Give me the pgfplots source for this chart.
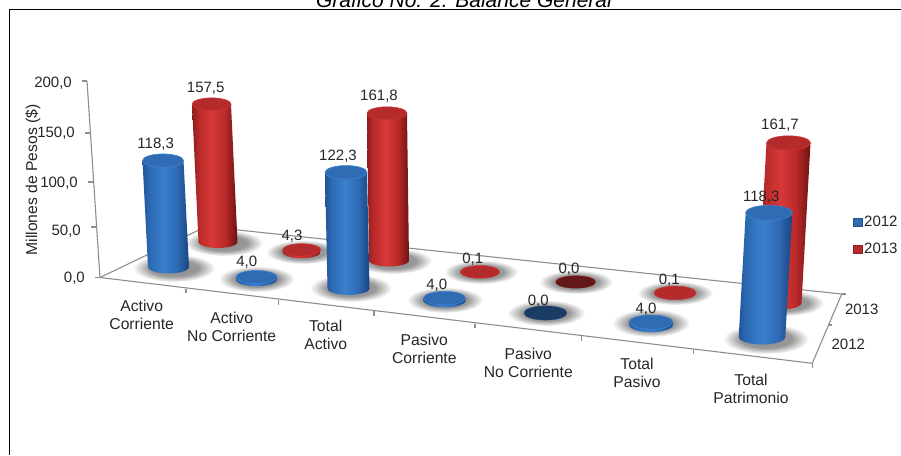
\documentclass[border=0pt]{standalone}
\usepackage{fontspec}
\setmainfont{Liberation Sans}
\usepackage{pgfplots}
\pgfplotsset{compat=1.18}

\definecolor{axgray}{HTML}{8E8E8E}
\definecolor{txt}{HTML}{262626}
\definecolor{capb}{HTML}{2F6CB4}
\definecolor{capr}{HTML}{B52A2A}
\definecolor{rimb}{HTML}{3F80CC}
\definecolor{rimr}{HTML}{C83434}

% cylinder bodies, the path covers 25bp to 75bp of the shading
\pgfdeclarehorizontalshading{cylb}{100bp}{rgb(0bp)=(.13,.33,.60);rgb(25bp)=(.13,.33,.60);rgb(32bp)=(.17,.41,.70);rgb(47bp)=(.23,.50,.80);rgb(62bp)=(.18,.42,.71);rgb(75bp)=(.10,.27,.50);rgb(100bp)=(.10,.27,.50)}
\pgfdeclarehorizontalshading{cylr}{100bp}{rgb(0bp)=(.55,.11,.11);rgb(25bp)=(.55,.11,.11);rgb(32bp)=(.72,.16,.16);rgb(47bp)=(.85,.22,.22);rgb(62bp)=(.72,.16,.16);rgb(75bp)=(.42,.07,.07);rgb(100bp)=(.42,.07,.07)}
\pgfdeclareradialshading{halo}{\pgfpointorigin}{color(0bp)=(black!46);color(15bp)=(black!40);color(25bp)=(white);color(50bp)=(white)}

\tikzset{
  v/.style={font=\fontsize{15}{18.2}\selectfont, text=txt, inner sep=0pt},
  c/.style={font=\fontsize{15.7}{18.2}\selectfont, text=txt, inner sep=0pt, align=center},
}

% shadow on the floor: x, y, half width, half height
\newcommand{\halo}[4]{%
  \def\pts{}%
  \foreach \t in {0,15,...,345}{%
    \pgfmathsetmacro\px{#1+#3*cos(\t)}\pgfmathsetmacro\py{#2+#4*sin(\t)}%
    \xdef\pts{\pts (\px,\py)}}%
  \addplot[forget plot, draw=none, mark=none, shading=halo] coordinates {\pts} --cycle;
}
% x base, y base, x top, value, px per unit, half width, half height of the ellipse, b or r
\newcommand{\cyl}[8]{%
  \pgfmathsetmacro\yt{#2-#4*#5}%
  \pgfmathsetmacro\xbl{#3-#6}\pgfmathsetmacro\xbr{#3+#6}%
  \xdef\pts{(\xbl,\yt) (\xbr,\yt)}%
  \foreach \t in {0,15,...,180}{%
    \pgfmathsetmacro\px{#1+#6*cos(\t)}\pgfmathsetmacro\py{#2+#7*sin(\t)}%
    \xdef\pts{\pts (\px,\py)}}%
  \addplot[forget plot, draw=none, mark=none, shading=cyl#8] coordinates {\pts} --cycle;
  \pgfmathsetmacro\rat{#7/#6}%
  \addplot[only marks, forget plot, mark=*, mark size=#6pt, mark options={yscale=\rat, fill=cap#8, draw=rim#8, line width=.6pt}] coordinates {(#3,\yt)};
}

\begin{document}
\begin{tikzpicture}
\useasboundingbox (0,0) rectangle (901pt,455pt);
\begin{axis}[
    at={(0,0)}, anchor=south west,
    scale only axis, width=901pt, height=455pt,
    xmin=0, xmax=901, ymin=0, ymax=455, y dir=reverse,
    hide axis, clip=false,
]
% frame
\draw[black, line width=1pt] (axis cs:901,9) -- (axis cs:9.5,9) -- (axis cs:9.5,455);

% shadows
\halo{174}{268}{41}{14}
\halo{224}{243}{39}{13}
\halo{351}{288}{41}{14}
\halo{393}{261}{39}{13}
\halo{256.5}{279}{38}{13}
\halo{303}{252}{37}{12}
\halo{445}{300}{38}{13}
\halo{481}{272}{37}{12}
\halo{546}{313}{39}{13}
\halo{576}{282}{37}{12}
\halo{651}{323}{39}{14}
\halo{675}{293}{38}{12}
\halo{766}{339}{43}{15}
\halo{785}{303}{39}{13}

% floor and walls
\draw[axgray, line width=1.1pt] (axis cs:87,81) -- (axis cs:100,277.5) -- (axis cs:812.3,363.3) -- (axis cs:841.7,294) -- (axis cs:206,226.6) -- (axis cs:100,277.5);
\draw[axgray, line width=1.1pt] (axis cs:82,81) -- (axis cs:87,81);
\draw[axgray, line width=1.1pt] (axis cs:85,133) -- (axis cs:89.5,133);
\draw[axgray, line width=1.1pt] (axis cs:88,182) -- (axis cs:92.5,182);
\draw[axgray, line width=1.1pt] (axis cs:91,227) -- (axis cs:96,227);
\draw[axgray, line width=1.1pt] (axis cs:94.5,277.5) -- (axis cs:100,277.5);
\draw[axgray, line width=1.1pt] (axis cs:186,288.5) -- (axis cs:186,293);
\draw[axgray, line width=1.1pt] (axis cs:278.3,300) -- (axis cs:278.3,305);
\draw[axgray, line width=1.1pt] (axis cs:374,311) -- (axis cs:374,315.5);
\draw[axgray, line width=1.1pt] (axis cs:475,323.5) -- (axis cs:475,328);
\draw[axgray, line width=1.1pt] (axis cs:581.7,336) -- (axis cs:581.7,340.5);
\draw[axgray, line width=1.1pt] (axis cs:693.3,349) -- (axis cs:693.3,353.5);
\draw[axgray, line width=1.1pt] (axis cs:812.3,363.3) -- (axis cs:812.3,368);
\draw[axgray, line width=1.1pt] (axis cs:828,325) -- (axis cs:832,325);
\draw[axgray, line width=1.1pt] (axis cs:841.7,294) -- (axis cs:845.5,294);

% 2013 row
\cyl{218}{242}{211.5}{157.5}{.875}{19.5}{6}{r}
\cyl{301.7}{252}{301.7}{4.3}{.5}{19}{6.3}{r}
\cyl{389}{260.5}{387}{161.8}{.91}{20}{6}{r}
\cyl{480}{272}{480}{0.1}{1}{19.5}{6}{r}
\addplot[only marks, forget plot, mark=*, mark size=20pt, mark options={yscale=.31, fill=capr!55!black, draw=capr!70!black}] coordinates {(575.7,282)};
\cyl{675}{293}{675}{0.1}{1}{21}{6.3}{r}
\cyl{779.5}{303}{788.5}{161.7}{.99}{22}{6.6}{r}

% 2012 row
\cyl{168.5}{267}{163}{118.3}{.90}{20.5}{6.5}{b}
\cyl{256.5}{279.5}{256.5}{4.0}{.6}{20.5}{6.8}{b}
\cyl{348.5}{288.5}{346}{122.3}{.95}{21}{6.5}{b}
\cyl{444.5}{300.5}{444.5}{4.0}{.6}{21}{7}{b}
\addplot[only marks, forget plot, mark=*, mark size=21.5pt, mark options={yscale=.33, fill=capb!55!black, draw=capb!70!black}] coordinates {(545.5,313)};
\cyl{651}{324.5}{651}{4.0}{.6}{22}{7.7}{b}
\cyl{762}{337}{769}{118.3}{1.05}{23.3}{7.5}{b}

% value labels
\node[v] at (axis cs:155.7,144) {118,3};
\node[v] at (axis cs:205.7,88) {157,5};
\node[v] at (axis cs:246.7,262.7) {4,0};
\node[v] at (axis cs:292,236) {4,3};
\node[v] at (axis cs:338,156) {122,3};
\node[v] at (axis cs:379,96.7) {161,8};
\node[v] at (axis cs:436.7,285) {4,0};
\node[v] at (axis cs:472.7,259) {0,1};
\node[v] at (axis cs:538.3,301) {0,0};
\node[v] at (axis cs:569,269.3) {0,0};
\node[v] at (axis cs:646,309.3) {4,0};
\node[v] at (axis cs:669.3,280) {0,1};
\node[v] at (axis cs:761.3,197.3) {118,3};
\node[v] at (axis cs:780,125.7) {161,7};

% value axis
\node[v, anchor=east] at (axis cs:72,83) {200,0};
\node[v, anchor=east] at (axis cs:75,133) {150,0};
\node[v, anchor=east] at (axis cs:78,183) {100,0};
\node[v, anchor=east] at (axis cs:81,231) {50,0};
\node[v, anchor=east] at (axis cs:85,278) {0,0};
\node[c, rotate=90] at (axis cs:33,180) {Millones de Pesos (\$)};

% categories
\node[c] at (axis cs:141.7,315) {Activo\\Corriente};
\node[c] at (axis cs:231.7,326.7) {Activo\\No Corriente};
\node[c] at (axis cs:325.7,335) {Total\\Activo};
\node[c] at (axis cs:424.3,348.5) {Pasivo\\Corriente};
\node[c] at (axis cs:528.3,363) {Pasivo\\No Corriente};
\node[c] at (axis cs:637,373) {Total\\Pasivo};
\node[c] at (axis cs:751,389) {Total\\Patrimonio};
\node[v] at (axis cs:861.7,309.3) {2013};
\node[v] at (axis cs:848.3,344) {2012};
\node[v, anchor=west] at (axis cs:864,221) {2012};
\node[v, anchor=west] at (axis cs:864,248.3) {2013};

% legend
\addplot[forget plot, only marks, mark=square*, mark size=4.2pt, mark options={fill=capb, draw=capb!75!black}] coordinates {(857.5,222)};
\addplot[forget plot, only marks, mark=square*, mark size=4.2pt, mark options={fill=capr, draw=capr!75!black}] coordinates {(857.5,249)};

% title, cut by the top of the picture
\node[font=\fontsize{21}{23}\selectfont\itshape, text=black, anchor=base] at (axis cs:464,7) {Gráfico No. 2: Balance General};
\end{axis}
\end{tikzpicture}
\end{document}
